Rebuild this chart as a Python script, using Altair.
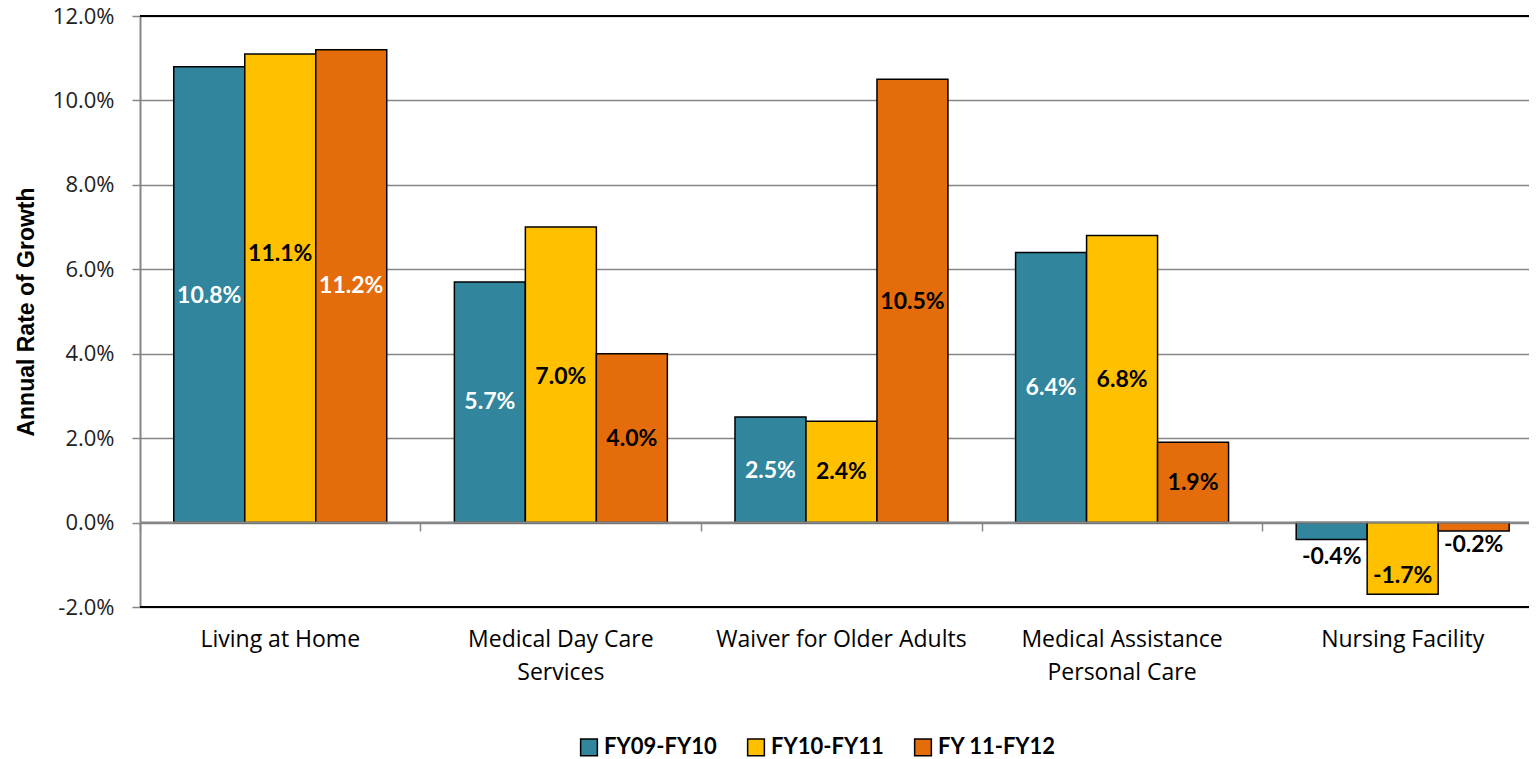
import altair as alt
import pandas as pd

categories = ["Living at Home", "Medical Day Care Services", "Waiver for Older Adults",
              "Medical Assistance Personal Care", "Nursing Facility"]
series = ["FY09-FY10", "FY10-FY11", "FY 11-FY12"]
colors = ["#31859C", "#FFC000", "#E46C0A"]

fy09_fy10 = [10.8, 5.7, 2.5, 6.4, -0.4]
fy10_fy11 = [11.1, 7.0, 2.4, 6.8, -1.7]
fy11_fy12 = [11.2, 4.0, 10.5, 1.9, -0.2]

# where each data label sits (in axis units)
label_y_09 = [5.36, 2.85, 1.23, 3.18, -0.81]
label_y_10 = [6.36, 3.44, 1.19, 3.37, -1.26]
label_y_11 = [5.60, 1.97, 5.22, 0.93, -0.52]
label_col_09 = ["white", "white", "white", "white", "black"]
label_col_10 = ["black", "black", "black", "black", "black"]
label_col_11 = ["white", "black", "black", "black", "black"]

y_ticks = [-2, 0, 2, 4, 6, 8, 10, 12]
y_title = "Annual Rate of Growth"

rows = []
for s, vals, ly, lc in zip(series, [fy09_fy10, fy10_fy11, fy11_fy12],
                           [label_y_09, label_y_10, label_y_11],
                           [label_col_09, label_col_10, label_col_11]):
    for c, v, y, col in zip(categories, vals, ly, lc):
        rows.append({"cat": c, "series": s, "value": v, "label_y": y,
                     "label": f"{v:.1f}%", "lcol": col})
df = pd.DataFrame(rows)

FONT_B = "Lato"
FONT_R = "Open Sans"
GREY = "#868686"

x_scale = alt.Scale(paddingInner=0.241, paddingOuter=0.0955, align=0.63)

x_enc = alt.X("cat:N", sort=categories, scale=x_scale,
              axis=alt.Axis(title=None, domain=False, ticks=False, labelAngle=0,
                            labelFont=FONT_R, labelFontSize=23, labelColor="#000",
                            labelPadding=21, labelLineHeight=33, labelLimit=0,
                            labelExpr="datum.label == 'Medical Day Care Services' ? ['Medical Day Care', 'Services'] : datum.label == 'Medical Assistance Personal Care' ? ['Medical Assistance', 'Personal Care'] : datum.label"))
xoff = alt.XOffset("series:N", sort=series, scale=alt.Scale(paddingInner=0, paddingOuter=0))
y_scale = alt.Scale(domain=[y_ticks[0], y_ticks[-1]], nice=False)
y_axis = alt.Axis(values=y_ticks,
                  labelExpr="(datum.value < 0 ? '-' : '') + format(abs(datum.value), '.1f') + '%'",
                  labelFont=FONT_R, labelFontSize=22, labelColor="#222",
                  labelPadding=18, tickSize=8, tickColor=GREY, tickWidth=1.5,
                  domainColor=GREY, domainWidth=2,
                  grid=True, gridColor=GREY, gridWidth=1.3,
                  titleFont="Liberation Sans", titleFontSize=23, titleFontWeight="bold",
                  titleColor="#000", titleX=-114, titleBaseline="middle")


def yq(field):
    return alt.Y(field, type="quantitative", scale=y_scale, axis=y_axis, title=y_title)


bars = alt.Chart(df).mark_bar(stroke="black", strokeWidth=1.5).encode(
    x=x_enc,
    xOffset=xoff,
    y=yq("value"),
    color=alt.Color("series:N", sort=series,
                    scale=alt.Scale(domain=series, range=colors),
                    legend=alt.Legend(title=None, orient="none", direction="horizontal",
                                      legendX=438, legendY=720,
                                      symbolType="square", symbolSize=280,
                                      symbolStrokeColor="black", symbolStrokeWidth=1.5,
                                      symbolOpacity=1,
                                      labelFont=FONT_B, labelFontSize=22, labelFontWeight="bold",
                                      labelColor="#000", columnPadding=27, labelOffset=4)),
)

labels = alt.Chart(df).mark_text(font=FONT_B, fontSize=23, fontWeight="bold",
                                 baseline="middle", align="center").encode(
    x=alt.X("cat:N", sort=categories, axis=None),
    xOffset=xoff,
    y=yq("label_y"),
    text="label:N",
    color=alt.Color("lcol:N", scale=None),
)

zero_df = pd.DataFrame({"y": [0]})
zero = alt.Chart(zero_df).mark_rule(color=GREY, strokeWidth=2).encode(y=yq("y"))

frame_df = pd.DataFrame({"y": [y_ticks[0], y_ticks[-1]]})
frame = alt.Chart(frame_df).mark_rule(color="black", strokeWidth=2).encode(y=yq("y"))

# category separator ticks hanging below the zero line
sep = alt.Chart(df).mark_point(opacity=0).encode(
    x=alt.X("cat:N", sort=categories,
            axis=alt.Axis(orient="top", offset=-515, domain=False, labels=False,
                          ticks=True, tickSize=8, tickColor=GREY, tickWidth=1.5,
                          bandPosition=0, tickOffset=-34, title=None)),
    y=yq("value"),
)

chart = alt.layer(bars, zero, frame, sep, labels).resolve_axis(x="independent").properties(
    width=1389, height=591,
    autosize=alt.AutoSizeParams(type="none"),
    padding={"left": 132, "top": 8, "right": 0, "bottom": 152},
).configure_view(stroke=None)

chart.save("out.html", embed_options={"renderer": "svg", "actions": False})
